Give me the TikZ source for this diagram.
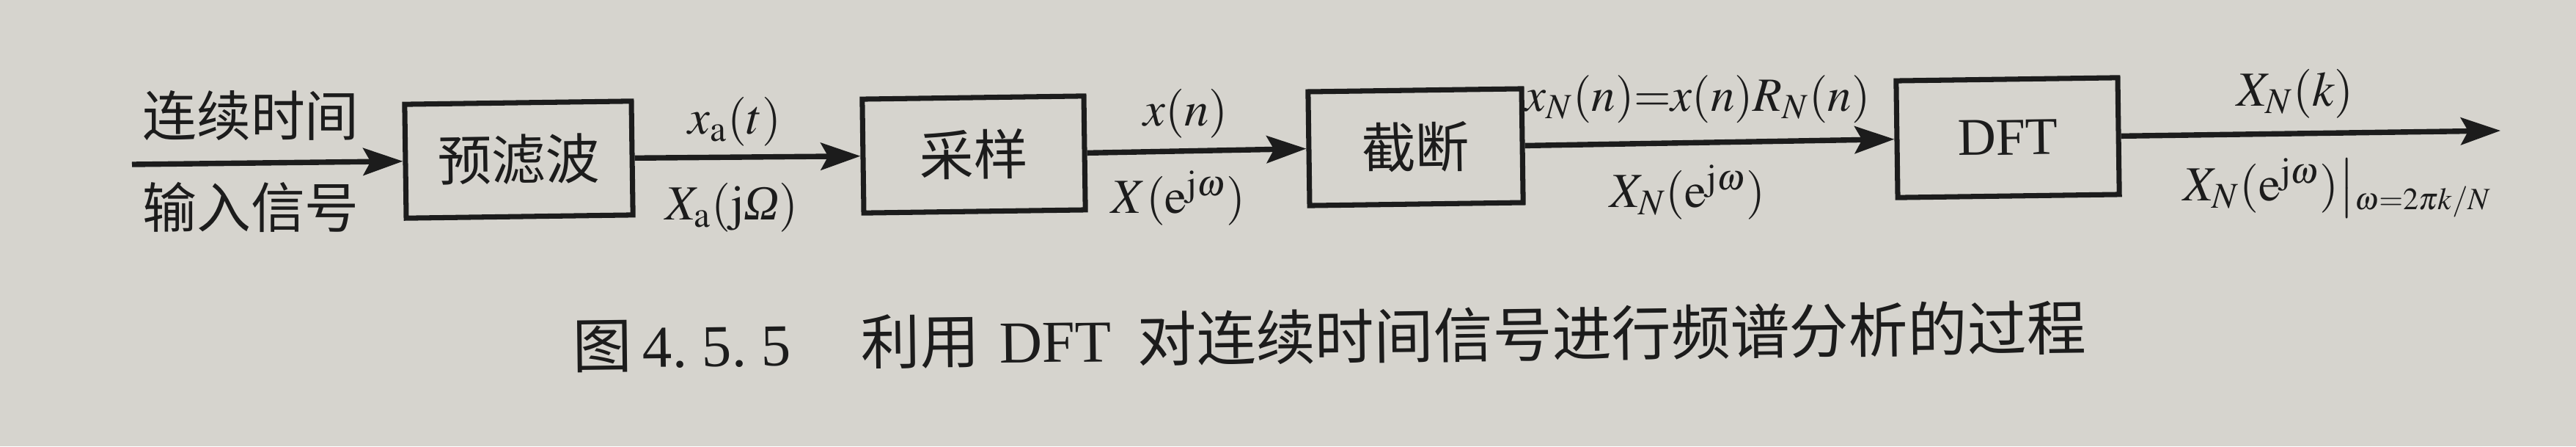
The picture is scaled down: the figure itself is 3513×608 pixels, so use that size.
\documentclass[tikz,border=0pt]{standalone}
\usepackage{mathptmx}
\usepackage{fontspec}
\setmainfont{Liberation Serif}
\newfontfamily\cjk{Noto Sans CJK SC}
\usetikzlibrary{arrows.meta}
\definecolor{paper}{RGB}{214,212,206}
\definecolor{ink}{RGB}{28,28,28}
\newcommand{\cjkfs}{\cjk\fontsize{21pt}{25pt}\selectfont}
\newcommand{\mfs}{\fontsize{19pt}{23pt}\selectfont}
\newcommand{\dftfs}{\fontsize{20.5pt}{24pt}\selectfont}
\newcommand{\capfs}{\fontsize{23pt}{27pt}\selectfont}
\newcommand{\subfs}{\fontsize{12pt}{13pt}\selectfont}
\begin{document}
\begin{tikzpicture}[x=0.01cm,y=-0.01cm,
  blk/.style={draw=ink, line width=2pt, minimum height=1.55cm, inner sep=0pt, text=ink, font=\cjkfs, rotate=0.8},
  lbl/.style={inner sep=0pt, text=ink, font=\mfs},
  conn/.style={draw=ink, line width=2.1pt, -{Stealth[length=0.54cm,width=0.37cm,inset=0.1cm]}}]
\useasboundingbox (0,0) rectangle (3513,608);
\fill[paper] (0,0) rectangle (3513,608);
% blocks
\node[blk, minimum width=3.09cm] (b1) at (707.5,217.5) {预滤波};
\node[blk, minimum width=3.02cm] (b2) at (1328,210.5) {采样};
\node[blk, minimum width=2.91cm] (b3) at (1930.5,200.5) {截断};
\node[blk, minimum width=3.02cm, minimum height=1.59cm, font=\dftfs] (b4) at (2738,187.5) {DFT};
% free ends
\coordinate (in) at (180,224);
\coordinate (out) at (3410,178);
% connectors
\draw[conn] (in) -- (b1.west);
\draw[conn] (b1.east) -- (b2.west);
\draw[conn] (b2.east) -- (b3.west);
\draw[conn] (b3.east) -- (b4.west);
\draw[conn] (b4.east) -- (out);
% labels
\node[lbl, font=\cjkfs] (t1) at (342,157) {连续时间};
\node[lbl, font=\cjkfs] (t2) at (342,282) {输入信号};
\node[lbl] (l1) at (1002,166) {$x_{\mathrm{a}}(t)$};
\node[lbl] (l2) at (998,283) {$X_{\mathrm{a}}(\mathrm{j}\mbox{\itshape Ω})$};
\node[lbl] (l3) at (1617,155) {$x(n)$};
\node[lbl] (l4) at (1607,270) {$X(\mathrm{e}^{\mathrm{j}\omega})$};
\node[lbl, font=\fontsize{18.5pt}{22pt}\selectfont] (l5) at (2315,135) {$x_N(n){=}x(n)R_N(n)$};
\node[lbl] (l6) at (2301,262) {$X_N(\mathrm{e}^{\mathrm{j}\omega})$};
\node[lbl] (l7) at (3130,128) {$X_N(k)$};
\node[lbl, anchor=west] (l8) at (2977,256) {$X_N(\mathrm{e}^{\mathrm{j}\omega})\big|$\raisebox{-0.12cm}{\subfs$\omega{=}2\pi k/N$}};
% caption
\node[lbl, anchor=west, font=\capfs, rotate=0.7] (cap) at (780,471) {{\cjk 图}\hspace{0.15cm}4.\hspace{0.2cm}5.\hspace{0.2cm}5\hspace{0.96cm}{\cjk 利用}\hspace{0.27cm}DFT\hspace{0.35cm}{\cjk 对连续时间信号进行频谱分析的过程}};
\end{tikzpicture}
\end{document}
